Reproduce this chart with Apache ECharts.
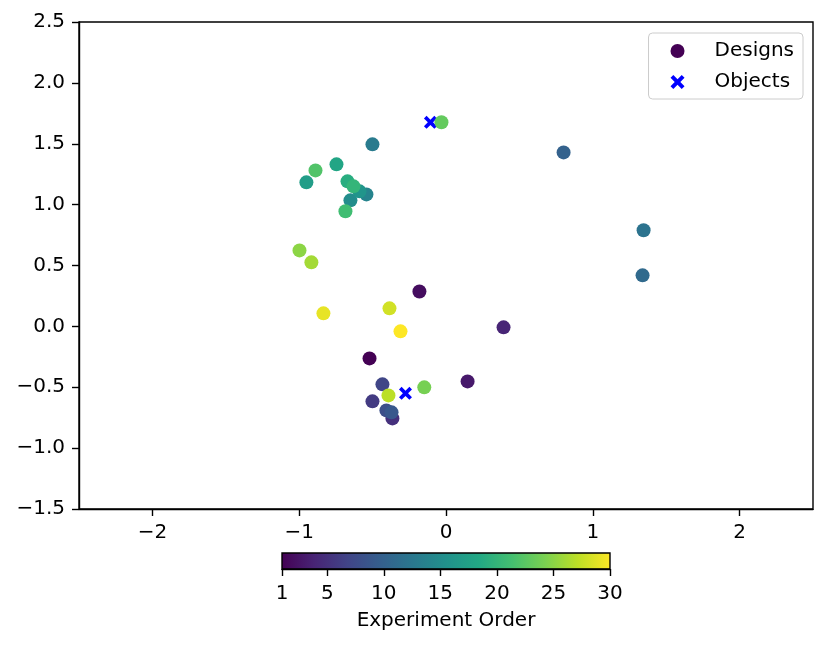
<!DOCTYPE html>
<html>
<head>
<meta charset="utf-8">
<script src="https://cdn.jsdelivr.net/npm/echarts@6/dist/echarts.min.js"></script>
<style>
  html, body { margin: 0; padding: 0; background: #fff; }
  #chart { width: 828px; height: 647px; }
</style>
</head>
<body>
<div id="chart"></div>
<script>
// design points, listed in experiment order
const designX = [-0.521, -0.181, 0.147, 0.392, -0.365, -0.501, -0.433, -0.406, -0.371, 0.801,
  1.339, 1.346, -0.501, -0.542, -0.651, -0.589, -0.951, -0.746, -0.671, -0.630,
  -0.685, -0.889, -0.031, -0.148, -0.998, -0.917, -0.392, -0.385, -0.835, -0.310];
const designY = [-0.263, 0.287, -0.452, -0.008, -0.756, -0.616, -0.476, -0.690, -0.706, 1.429,
  0.419, 0.789, 1.495, 1.084, 1.035, 1.109, 1.183, 1.331, 1.191, 1.150,
  0.945, 1.281, 1.676, -0.501, 0.624, 0.526, -0.567, 0.148, 0.107, -0.041];
const designOrder = [1, 2, 3, 4, 5, 6, 7, 8, 9, 10, 11, 12, 13, 14, 15,
  16, 17, 18, 19, 20, 21, 22, 23, 24, 25, 26, 27, 28, 29, 30];

const objectX = [-0.106, -0.276];
const objectY = [1.676, -0.550];

const xTicks = [-2, -1, 0, 1, 2];
const orderTicks = [1, 5, 10, 15, 20, 25, 30];

const viridis = ["#440154", "#482475", "#414487", "#355f8d", "#2a788e", "#21918c",
  "#22a884", "#44bf70", "#7ad151", "#bddf26", "#fde725"];

const font = "DejaVu Sans";
const minus = v => String(v).replace("-", "\u2212");
const crossPath = "path://M2,0L5,3L8,0L10,2L7,5L10,8L8,10L5,7L2,10L0,8L3,5L0,2Z";

let myChart = echarts.init(document.getElementById("chart"));
let axisCommon = {
  axisLine: { show: true, onZero: false, lineStyle: { color: "#000", width: 1.4 } },
  axisTick: { show: true, inside: false, length: 7, lineStyle: { color: "#000", width: 1.4 } },
  axisLabel: { color: "#000", fontFamily: font, fontSize: 20, margin: 14 },
  splitLine: { show: false }
};
let option = {
  animation: false,
  grid: [
    { left: 79, right: 15, top: 22, bottom: 138, show: true, borderColor: "#000", borderWidth: 1.4 },
    {
      left: 282, top: 553, width: 328, height: 16, show: true, borderColor: "#000", borderWidth: 1.4,
      backgroundColor: new echarts.graphic.LinearGradient(0, 0, 1, 0,
        viridis.map((c, i) => ({ offset: i / (viridis.length - 1), color: c })))
    }
  ],
  xAxis: [
    Object.assign({}, axisCommon, {
      type: "value", gridIndex: 0, min: -2.5, max: 2.5,
      axisTick: Object.assign({}, axisCommon.axisTick, { customValues: xTicks }),
      axisLabel: Object.assign({}, axisCommon.axisLabel, { customValues: xTicks, formatter: v => minus(v) })
    }),
    Object.assign({}, axisCommon, {
      type: "value", gridIndex: 1, min: 1, max: 30,
      axisTick: Object.assign({}, axisCommon.axisTick, { customValues: orderTicks }),
      axisLabel: Object.assign({}, axisCommon.axisLabel, { customValues: orderTicks, margin: 15 }),
      name: "Experiment Order", nameLocation: "middle", nameGap: 42,
      nameTextStyle: { color: "#000", fontFamily: font, fontSize: 20 }
    })
  ],
  yAxis: [
    Object.assign({}, axisCommon, {
      type: "value", gridIndex: 0, min: -1.5, max: 2.5, interval: 0.5,
      axisLabel: Object.assign({}, axisCommon.axisLabel, { formatter: v => minus(v.toFixed(1)) })
    }),
    { type: "value", gridIndex: 1, show: false, min: 0, max: 1 }
  ],
  visualMap: {
    show: false, type: "continuous", min: 1, max: 30, dimension: 2, seriesIndex: 1,
    inRange: { color: viridis }
  },
  legend: {
    orient: "vertical", right: 25, top: 33,
    padding: [7, 9, 6, 22], itemGap: 9, itemWidth: 48, itemHeight: 14,
    backgroundColor: "#fff", borderColor: "#cccccc", borderWidth: 1, borderRadius: 4,
    textStyle: { color: "#000", fontFamily: font, fontSize: 20, lineHeight: 22, padding: [0, 0, 0, 8] },
    data: [
      { name: "Designs", icon: "circle", itemStyle: { color: "#440154" } },
      { name: "Objects", icon: crossPath, itemStyle: { color: "#0000ff" } }
    ]
  },
  series: [
    {
      name: "Objects", type: "scatter", xAxisIndex: 0, yAxisIndex: 0,
      symbol: crossPath, symbolSize: 13, itemStyle: { color: "#0000ff", opacity: 1 },
      data: objectX.map((x, i) => [x, objectY[i]])
    },
    {
      name: "Designs", type: "scatter", xAxisIndex: 0, yAxisIndex: 0,
      symbolSize: 14, itemStyle: { opacity: 1 },
      data: designX.map((x, i) => [x, designY[i], designOrder[i]])
    }
  ]
};
myChart.setOption(option);
</script>
</body>
</html>
